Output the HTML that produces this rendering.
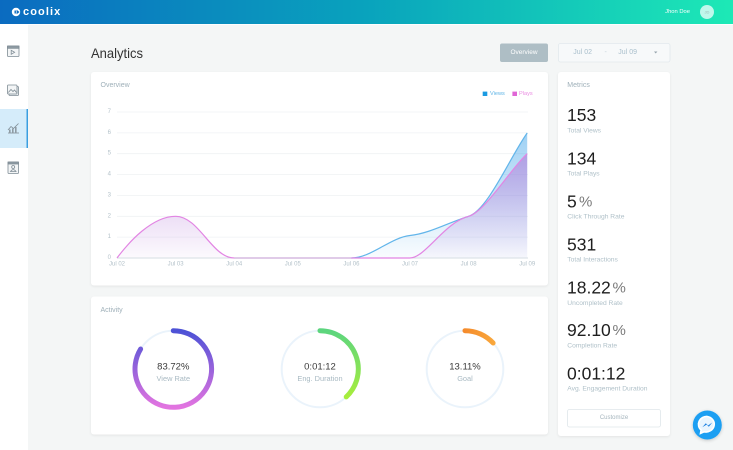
<!DOCTYPE html>
<html><head><meta charset="utf-8">
<style>
html,body{margin:0;padding:0;width:733px;height:450px;overflow:hidden;background:#f4f6f6;}
svg{display:block;font-family:"Liberation Sans",sans-serif;}
</style></head>
<body>
<svg width="733" height="450" viewBox="0 0 733 450" xmlns="http://www.w3.org/2000/svg">
<defs>
<linearGradient id="topg" x1="0" y1="0" x2="1" y2="0">
<stop offset="0" stop-color="#0b6bc0"/>
<stop offset="0.5" stop-color="#09a3bd"/>
<stop offset="1" stop-color="#1de9b6"/>
</linearGradient>
<linearGradient id="vf" gradientUnits="userSpaceOnUse" x1="0" y1="130" x2="0" y2="258">
<stop offset="0" stop-color="#3aa0e8" stop-opacity="0.5"/>
<stop offset="1" stop-color="#3aa0e8" stop-opacity="0.03"/>
</linearGradient>
<linearGradient id="pf" gradientUnits="userSpaceOnUse" x1="0" y1="150" x2="0" y2="258">
<stop offset="0" stop-color="#b37ad8" stop-opacity="0.62"/>
<stop offset="0.6" stop-color="#b37ad8" stop-opacity="0.25"/>
<stop offset="1" stop-color="#b37ad8" stop-opacity="0.04"/>
</linearGradient>
<linearGradient id="d1" gradientUnits="userSpaceOnUse" x1="0" y1="331" x2="0" y2="407">
<stop offset="0" stop-color="#4d52d6"/>
<stop offset="1" stop-color="#e274e0"/>
</linearGradient>
<linearGradient id="d2" gradientUnits="userSpaceOnUse" x1="0" y1="331" x2="0" y2="400">
<stop offset="0" stop-color="#5cd57e"/>
<stop offset="1" stop-color="#aaee3a"/>
</linearGradient>
<linearGradient id="d3" gradientUnits="userSpaceOnUse" x1="460" y1="0" x2="495" y2="0">
<stop offset="0" stop-color="#f4872a"/>
<stop offset="1" stop-color="#f9a83c"/>
</linearGradient>
<filter id="sh" x="-5%" y="-5%" width="110%" height="115%">
<feDropShadow dx="0" dy="1" stdDeviation="1.2" flood-color="#000" flood-opacity="0.07"/>
</filter>
<filter id="sh2" x="-40%" y="-40%" width="180%" height="180%">
<feDropShadow dx="0" dy="1" stdDeviation="1.5" flood-color="#000" flood-opacity="0.2"/>
</filter>
</defs>

<!-- background -->
<rect x="0" y="0" width="733" height="450" fill="#f4f6f6"/>
<!-- sidebar -->
<rect x="0" y="24" width="28" height="426" fill="#ffffff"/>
<rect x="0" y="109" width="28" height="39" fill="#d5ecfa"/>
<rect x="26.5" y="109" width="1.5" height="39" fill="#3a9ee0"/>

<!-- sidebar icons -->
<g stroke="#7f8c95" stroke-width="0.8" fill="#f3f5f6">
<rect x="7.5" y="46" width="11.5" height="10.5" rx="0.8"/>
<rect x="7.5" y="46" width="11.5" height="2.3" fill="#8f9ba3"/>
<path d="M11.2,50.3 L11.2,54.3 L14.6,52.3 Z" fill="none"/>
<rect x="9" y="86.5" width="9.5" height="9" rx="0.8" fill="#e9eef1"/>
<rect x="7.5" y="85" width="9.5" height="9" rx="0.8"/>
<path d="M8.3,92.5 L11,89.5 L13,91.5 L14.5,90 L16.5,92.5" fill="none"/>
<path d="M8,133 L19,133" fill="none"/>
<path d="M8,130 L11,126.5 L13.5,128.5 L18.5,123.5" fill="none"/>
<rect x="9" y="129.5" width="1.6" height="3.5" fill="#8f9ba3" stroke="none"/>
<rect x="12" y="128.5" width="1.6" height="4.5" fill="#8f9ba3" stroke="none"/>
<rect x="15" y="127" width="1.6" height="6" fill="#8f9ba3" stroke="none"/>
<rect x="8" y="162" width="10.5" height="11.5" rx="0.8"/>
<rect x="8" y="162" width="10.5" height="2" fill="#8f9ba3"/>
<circle cx="13.2" cy="167" r="1.5" fill="none"/>
<path d="M10.5,171.5 Q13.2,167.8 16,171.5 Z" fill="none"/>
</g>

<!-- top bar -->
<rect x="0" y="0" width="733" height="24" fill="url(#topg)"/>
<rect x="28" y="24" width="705" height="1" fill="#ffffff" opacity="0.8"/>
<circle cx="16" cy="12" r="4.2" fill="#ffffff"/>
<path d="M16.6,9.8 L19.5,12 L16.6,14.2 Z" fill="#0b6bc0"/>
<rect x="14.5" y="10.5" width="1.4" height="3" fill="#0b6bc0"/>
<text x="23" y="12" dominant-baseline="central" font-size="11" font-weight="bold" fill="#ffffff" letter-spacing="1.1">coolix</text>
<text x="690" y="12" dominant-baseline="central" text-anchor="end" font-size="5.8" fill="#ffffff">Jhon Doe</text>
<circle cx="707" cy="12" r="7" fill="#ffffff" fill-opacity="0.72"/>
<text x="707" y="12" dominant-baseline="central" text-anchor="middle" font-size="4" fill="#9fb8b8">JD</text>

<!-- header -->
<text x="91" y="53" dominant-baseline="central" font-size="14" fill="#333333" textLength="52" lengthAdjust="spacingAndGlyphs">Analytics</text>
<rect x="500" y="43.5" width="48" height="18.5" rx="2" fill="#aebec5"/>
<text x="524" y="52.7" dominant-baseline="central" text-anchor="middle" font-size="6.5" fill="#ffffff">Overview</text>
<rect x="558.5" y="43.5" width="111.5" height="18.5" rx="2" fill="#f7f9fa" stroke="#e2e9ed" stroke-width="0.8"/>
<text x="573.3" y="52.7" dominant-baseline="central" font-size="7" fill="#a9bfcc">Jul 02</text>
<text x="605.7" y="52.7" dominant-baseline="central" text-anchor="middle" font-size="7" fill="#c6d3da">-</text>
<text x="618.3" y="52.7" dominant-baseline="central" font-size="7" fill="#a9bfcc">Jul 09</text>
<path d="M654,51.5 L657.4,51.5 L655.7,53.5 Z" fill="#97a5ad"/>

<!-- cards -->
<rect x="91" y="72" width="457" height="213.5" rx="3" fill="#ffffff" filter="url(#sh)"/>
<rect x="91" y="296.5" width="457" height="138" rx="3" fill="#ffffff" filter="url(#sh)"/>
<rect x="558" y="72" width="112" height="364" rx="3" fill="#ffffff" filter="url(#sh)"/>

<!-- Overview chart -->
<text x="100.5" y="85.7" dominant-baseline="central" font-size="7" fill="#9fb0b9">Overview</text>
<rect x="482.7" y="91.6" width="4.6" height="4.4" fill="#1b9be2"/>
<text x="490" y="93.8" dominant-baseline="central" font-size="5.6" fill="#5fb4e6">Views</text>
<rect x="512.4" y="91.6" width="4.6" height="4.4" fill="#e066d6"/>
<text x="519" y="93.8" dominant-baseline="central" font-size="5.6" fill="#ea8ce2">Plays</text>

<g stroke="#eff2f4" stroke-width="0.8">
<line x1="117" y1="112" x2="528" y2="112"/>
<line x1="117" y1="132.9" x2="528" y2="132.9"/>
<line x1="117" y1="153.7" x2="528" y2="153.7"/>
<line x1="117" y1="174.6" x2="528" y2="174.6"/>
<line x1="117" y1="195.4" x2="528" y2="195.4"/>
<line x1="117" y1="216.3" x2="528" y2="216.3"/>
<line x1="117" y1="237.1" x2="528" y2="237.1"/>
</g>
<g font-size="6" fill="#b4c2ca" text-anchor="middle">
<text x="109.3" y="112" dominant-baseline="central">7</text>
<text x="109.3" y="132.9" dominant-baseline="central">6</text>
<text x="109.3" y="153.7" dominant-baseline="central">5</text>
<text x="109.3" y="174.6" dominant-baseline="central">4</text>
<text x="109.3" y="195.4" dominant-baseline="central">3</text>
<text x="109.3" y="216.3" dominant-baseline="central">2</text>
<text x="109.3" y="237.1" dominant-baseline="central">1</text>
<text x="109.3" y="258" dominant-baseline="central">0</text>
<text x="117" y="264.5" dominant-baseline="central">Jul 02</text>
<text x="175.6" y="264.5" dominant-baseline="central">Jul 03</text>
<text x="234.2" y="264.5" dominant-baseline="central">Jul 04</text>
<text x="292.8" y="264.5" dominant-baseline="central">Jul 05</text>
<text x="351.4" y="264.5" dominant-baseline="central">Jul 06</text>
<text x="410" y="264.5" dominant-baseline="central">Jul 07</text>
<text x="468.6" y="264.5" dominant-baseline="central">Jul 08</text>
<text x="527.2" y="264.5" dominant-baseline="central">Jul 09</text>
</g>

<!-- views -->
<path d="M117,258 L351.4,258 C371,258 390.5,237.5 410,235.5 C429.5,233.5 449,222.3 468.6,216.3 C488,210 510,157 527.2,133 L527.2,258 L117,258 Z" fill="url(#vf)"/>
<!-- plays -->
<path d="M117,258 C129,242 152,216.3 175.6,216.3 C199,216.3 212,258 234.2,258 L410,258 C425,258 445,222 468.6,216.3 C485,212 512,167 527.2,153.7 L527.2,258 L117,258 Z" fill="url(#pf)"/>
<line x1="117" y1="258" x2="528" y2="258" stroke="#d6dee3" stroke-width="0.9"/>
<path d="M351.4,258 C371,258 390.5,237.5 410,235.5 C429.5,233.5 449,222.3 468.6,216.3 C488,210 510,157 527.2,133" fill="none" stroke="#62b5ea" stroke-width="1.2"/>
<path d="M117,258 C129,242 152,216.3 175.6,216.3 C199,216.3 212,258 234.2,258 L410,258 C425,258 445,222 468.6,216.3 C485,212 512,167 527.2,153.7" fill="none" stroke="#e285e3" stroke-width="1.2"/>
<line x1="234.2" y1="258" x2="351.4" y2="258" stroke="#c9b6d8" stroke-width="1"/>

<!-- Activity -->
<text x="100.5" y="310.7" dominant-baseline="central" font-size="7" fill="#9fb0b9">Activity</text>

<circle cx="173.3" cy="369" r="38.3" fill="none" stroke="#eaf3fb" stroke-width="2"/>
<path d="M173.3,330.7 A38.3,38.3 0 1 1 140.61,349.05" fill="none" stroke="url(#d1)" stroke-width="5" stroke-linecap="round"/>
<text x="173.3" y="367" dominant-baseline="central" text-anchor="middle" font-size="9.5" fill="#3a3a3a">83.72%</text>
<text x="173.3" y="378.3" dominant-baseline="central" text-anchor="middle" font-size="7.4" fill="#a9bac3">View Rate</text>

<circle cx="320" cy="369" r="38.3" fill="none" stroke="#eaf3fb" stroke-width="2"/>
<path d="M320,330.7 A38.3,38.3 0 0 1 346.22,396.92" fill="none" stroke="url(#d2)" stroke-width="5" stroke-linecap="round"/>
<text x="320" y="367" dominant-baseline="central" text-anchor="middle" font-size="9.5" fill="#3a3a3a">0:01:12</text>
<text x="320" y="378.3" dominant-baseline="central" text-anchor="middle" font-size="7.4" fill="#a9bac3">Eng. Duration</text>

<circle cx="465" cy="369" r="38.3" fill="none" stroke="#eaf3fb" stroke-width="2"/>
<path d="M465,330.7 A38.3,38.3 0 0 1 493.10,342.98" fill="none" stroke="url(#d3)" stroke-width="5" stroke-linecap="round"/>
<text x="465" y="367" dominant-baseline="central" text-anchor="middle" font-size="9.5" fill="#3a3a3a">13.11%</text>
<text x="465" y="378.3" dominant-baseline="central" text-anchor="middle" font-size="7.4" fill="#a9bac3">Goal</text>

<!-- Metrics -->
<text x="567.3" y="85.3" dominant-baseline="central" font-size="7" fill="#9fb0b9">Metrics</text>
<g font-size="17.5" fill="#1e1e1e">
<text x="567" y="115" dominant-baseline="central">153</text>
<text x="567" y="158.3" dominant-baseline="central">134</text>
<text x="567" y="201.7" dominant-baseline="central">5<tspan dx="2.3" font-size="15" fill="#7a7a7a">%</tspan></text>
<text x="567" y="244.5" dominant-baseline="central">531</text>
<text x="567" y="287.3" dominant-baseline="central">18.22<tspan dx="1.7" font-size="15" fill="#7a7a7a">%</tspan></text>
<text x="567" y="330" dominant-baseline="central">92.10<tspan dx="1.7" font-size="15" fill="#7a7a7a">%</tspan></text>
<text x="567" y="373.3" dominant-baseline="central">0:01:12</text>
</g>
<g font-size="6.7" fill="#b0c1c9">
<text x="567.3" y="131" dominant-baseline="central">Total Views</text>
<text x="567.3" y="174" dominant-baseline="central">Total Plays</text>
<text x="567.3" y="216.8" dominant-baseline="central">Click Through Rate</text>
<text x="567.3" y="260" dominant-baseline="central">Total Interactions</text>
<text x="567.3" y="303.3" dominant-baseline="central">Uncompleted Rate</text>
<text x="567.3" y="346" dominant-baseline="central">Completion Rate</text>
<text x="567.3" y="389" dominant-baseline="central">Avg. Engagement Duration</text>
</g>
<rect x="567.5" y="409.5" width="93" height="17.5" rx="2" fill="#ffffff" stroke="#dfe6ea" stroke-width="0.8"/>
<text x="614" y="418.2" dominant-baseline="central" text-anchor="middle" font-size="6" fill="#a5b5bd">Customize</text>

<!-- messenger -->
<circle cx="707.3" cy="425" r="14.5" fill="#1e9ff2" filter="url(#sh2)"/>
<path d="M707.3,416.5 a8.3,7.8 0 1 1 -3.2,15.3 l-3.6,1.6 l0.6,-3.4 a8.3,7.8 0 0 1 6.2,-13.5 Z" fill="#e9f5fe" stroke="#ffffff" stroke-width="1.6"/>
<path d="M702.3,427.3 L705.8,423.2 L708,425.5 L712.3,422.5 L708.8,426.8 L706.6,424.6 Z" fill="#1a7fe0"/>
</svg>
</body></html>
